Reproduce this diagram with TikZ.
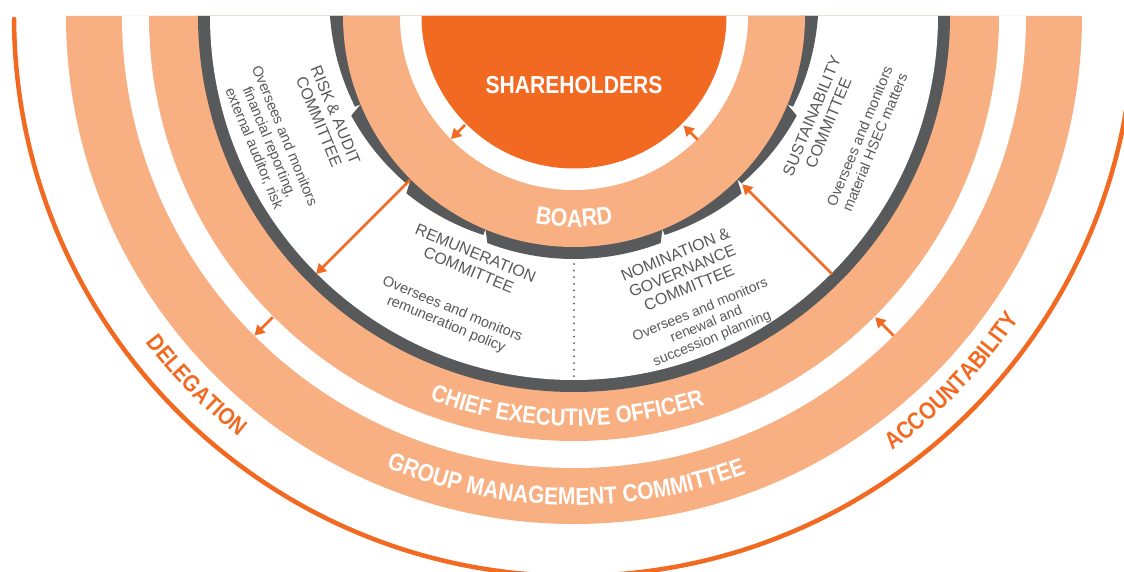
\documentclass[tikz,border=0pt]{standalone}
\usepackage{fontspec}
\setmainfont{Liberation Sans}
\newfontfamily\headfont[FakeStretch=0.86]{Liberation Sans}
\usetikzlibrary{arrows.meta,decorations.text}
\definecolor{orng}{HTML}{F26A22}
\definecolor{peach}{HTML}{F8B083}
\definecolor{dgrey}{HTML}{58595B}
\begin{document}
\begin{tikzpicture}[x=1pt,y=1pt,
  arr/.style={draw=orng, line width=2.6pt, -{Triangle[length=10pt,width=11pt]}},
  cttitle/.style={text=dgrey, font=\fontsize{16}{18}\selectfont, align=center, inner sep=0pt},
  ctdesc/.style={text=dgrey, font=\fontsize{14.5}{16.5}\selectfont, align=center, inner sep=0pt},
  bigtext/.style={text=white, font=\headfont\bfseries\fontsize{24.5}{25}\selectfont, inner sep=0pt}
]
\useasboundingbox (-574,-556) rectangle (550,16);
\clip (-574,-556) rectangle (550,16);

% rings
\fill[peach] (180:508pt) arc[start angle=180,end angle=360,radius=508pt] -- cycle;
\fill[white] (180:452pt) arc[start angle=180,end angle=360,radius=452pt] -- cycle;
\fill[peach] (180:425pt) arc[start angle=180,end angle=360,radius=425pt] -- cycle;
\fill[dgrey] (180:376pt) arc[start angle=180,end angle=360,radius=376pt] -- cycle;
\fill[white] (180:364pt) arc[start angle=180,end angle=360,radius=364pt] -- cycle;

% grey segmented band around the board
\fill[dgrey] (180:226pt) -- (180:244pt) -- plot[domain=180:202.5,samples=25] (\x:{244-7*(\x-180)/22.5}) -- (202.5:226pt) -- cycle;
\fill[dgrey] (202.5:226pt) -- (202.5:231pt) -- (204.1:244pt) -- plot[domain=204.1:225,samples=25] (\x:{244-7*(\x-204.1)/20.9}) -- (225:226pt) -- cycle;
\fill[dgrey] (225:226pt) -- (225:231pt) -- (226.6:244pt) -- plot[domain=226.6:247.5,samples=25] (\x:{244-7*(\x-226.6)/20.9}) -- (247.5:226pt) -- cycle;
\fill[dgrey] (247.5:226pt) -- (247.5:231pt) -- (249.1:243pt) arc[start angle=249.1,end angle=290.9,radius=243pt] -- (292.5:231pt) -- (292.5:226pt) -- cycle;
\fill[dgrey] (292.5:226pt) -- (292.5:237pt) -- plot[domain=292.5:313.4,samples=25] (\x:{237+7*(\x-292.5)/20.9}) -- (315:231pt) -- (315:226pt) -- cycle;
\fill[dgrey] (315:226pt) -- (315:237pt) -- plot[domain=315:335.9,samples=25] (\x:{237+7*(\x-315)/20.9}) -- (337.5:231pt) -- (337.5:226pt) -- cycle;
\fill[dgrey] (337.5:226pt) -- (337.5:237pt) -- plot[domain=337.5:360,samples=25] (\x:{237+7*(\x-337.5)/22.5}) -- (360:226pt) -- cycle;

% board, gap, shareholders
\fill[peach] (180:231pt) arc[start angle=180,end angle=360,radius=231pt] -- cycle;
\fill[white] (180:174pt) arc[start angle=180,end angle=360,radius=174pt] -- cycle;
\fill[orng] (180:152.5pt) arc[start angle=180,end angle=360,radius=152.5pt] -- cycle;

% outer orange line
\draw[orng, line width=4.5pt, line cap=round] (180.3:560pt) arc[start angle=180.3,end angle=360,radius=560pt];

% dotted divider
\coordinate (dl1) at (0,-248);
\coordinate (dl2) at (0,-362);
\draw[dgrey, line width=2pt, line cap=round, dash pattern=on 0pt off 6.6pt] (dl1) -- (dl2);

% arrows
\coordinate (a1s) at (225:154pt); \coordinate (a1e) at (225:174pt);
\coordinate (a2s) at (315:175pt); \coordinate (a2e) at (315:155pt);
\coordinate (a3s) at (225:232pt); \coordinate (a3e) at (225:365pt);
\coordinate (a4s) at (315:365pt); \coordinate (a4e) at (315:238pt);
\coordinate (a5s) at (225:426pt); \coordinate (a5e) at (225:452pt);
\coordinate (a6s) at (315:452pt); \coordinate (a6e) at (315:426pt);
\draw[arr] (a1s) -- (a1e);
\draw[arr] (a2s) -- (a2e);
\draw[arr] (a3s) -- (a3e);
\draw[arr] (a4s) -- (a4e);
\draw[arr] (a5s) -- (a5e);
\draw[arr] (a6s) -- (a6e);

% main labels
\node[bigtext] (sh) at (0,-69) {SHAREHOLDERS};
\path[decorate, decoration={text along path, text align=center, text color=white,
  text={|\headfont\bfseries\fontsize{25}{25}\selectfont|BOARD}}]
  (240:211pt) arc[start angle=240,end angle=300,radius=211pt];
\path[decorate, decoration={text along path, text align=center, text color=white,
  text={|\headfont\bfseries\fontsize{24}{24}\selectfont|CHIEF EXECUTIVE OFFICER}}]
  (220:410pt) arc[start angle=220,end angle=318,radius=410pt];
\path[decorate, decoration={text along path, text align=center, text color=white,
  text={|\headfont\bfseries\fontsize{24.5}{25}\selectfont|GROUP MANAGEMENT COMMITTEE}}]
  (230:489pt) arc[start angle=230,end angle=308,radius=489pt];
\path[decorate, decoration={text along path, text align=center, text color=orng,
  text={|\headfont\bfseries\fontsize{23.5}{24}\selectfont|DELEGATION}}]
  (204.4:538.5pt) arc[start angle=204.4,end angle=244.4,radius=538.5pt];
\path[decorate, decoration={text along path, text align=center, text color=orng,
  text={|\headfont\bfseries\fontsize{24}{24}\selectfont|ACCOUNTABILITY}}]
  (296:538.5pt) arc[start angle=296,end angle=336,radius=538.5pt];

% committees
\node[cttitle, rotate=-67.5] (riskt) at (202.5:267pt) {RISK \& AUDIT\\COMMITTEE};
\node[ctdesc, rotate=-67.5] (riskd) at (202.5:330pt) {Oversees and monitors\\financial reporting,\\external auditor, risk};
\node[cttitle, rotate=-22.5] (remt) at (247.5:266pt) {REMUNERATION\\COMMITTEE};
\node[ctdesc, rotate=-22.5] (remd) at (247.5:326pt) {Oversees and monitors\\remuneration policy};
\node[cttitle, rotate=22.5] (nomt) at (293:277pt) {NOMINATION \&\\GOVERNANCE\\COMMITTEE};
\node[ctdesc, rotate=22.5, font=\fontsize{14}{15.5}\selectfont] (nomd) at (293.2:336pt) {Oversees and monitors\\renewal and\\succession planning};
\node[cttitle, rotate=67.5] (sust) at (337.2:267pt) {SUSTAINABILITY\\COMMITTEE};
\node[ctdesc, rotate=67.5] (susd) at (337.2:318pt) {Oversees and monitors\\material HSEC matters};
\end{tikzpicture}
\end{document}
